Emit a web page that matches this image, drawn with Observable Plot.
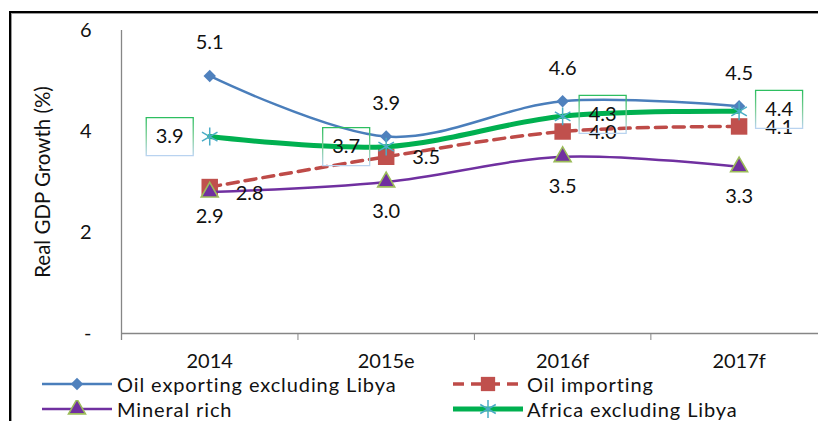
<!DOCTYPE html>
<html>
<head>
<meta charset="utf-8">
<script src="https://cdn.jsdelivr.net/npm/d3@7"></script>
<script src="https://cdn.jsdelivr.net/npm/@observablehq/plot@0.6"></script>
<style>
  html, body { margin: 0; padding: 0; background: #fff; }
  body { width: 818px; height: 421px; position: relative; overflow: hidden; font-family: Lato, "Liberation Sans", sans-serif; }
  #chart { position: absolute; left: 0; top: 0; }
  #frame { position: absolute; left: 9px; top: 11px; width: 900px; height: 500px; border-left: 2px solid #000; border-top: 2px solid #000; box-shadow: inset 1px 1px 0 #9a9a9a; pointer-events: none; }
  .leg { position: absolute; font-size: 20px; letter-spacing: 0.9px; color: #111; line-height: 1; white-space: nowrap; }
  .sw { position: absolute; }
</style>
</head>
<body>
<div id="chart"></div>
<div id="legend"></div>
<div id="frame"></div>
<script>
// ---- data ----
const categories = ["2014", "2015e", "2016f", "2017f"];
const seriesNames = ["Oil exporting excluding Libya", "Oil importing", "Mineral rich", "Africa excluding Libya"];
const oilExporting = [5.1, 3.9, 4.6, 4.5];
const oilImporting = [2.9, 3.5, 4.0, 4.1];
const mineralRich = [2.8, 3.0, 3.5, 3.3];
const africaExLibya = [3.9, 3.7, 4.3, 4.4];
const yTicks = [0, 2, 4, 6];
const yTitle = "Real GDP Growth (%)";
// where each data label sits relative to its point
const placeExporting = ["above", "above", "above", "above"];
const placeImporting = ["below", "right", "right", "right"];
const placeMineral = ["right", "below", "below", "below"];
const placeAfrica = ["boxLeft", "boxLeft", "boxRight", "boxRight"];

const seriesValues = [oilExporting, oilImporting, mineralRich, africaExLibya];
const seriesPlaces = [placeExporting, placeImporting, placeMineral, placeAfrica];

const rows = [];
seriesNames.forEach((name, s) => {
  seriesValues[s].forEach((v, i) => rows.push({series: name, s, i, value: v, place: seriesPlaces[s][i]}));
});

const styles = [
  {stroke: "#4A7EBB", width: 2.5, dash: null, symbol: "diamond2", r: 5.6, fill: "#4F81BD", mstroke: "none", msw: 0},
  {stroke: "#BE4B48", width: 3.5, dash: "11,7", symbol: "square", r: 9.3, fill: "#C0504D", mstroke: "none", msw: 0},
  {stroke: "#7030A0", width: 2.5, dash: null, symbol: "triangle", r: 6.3, fill: "#7030A0", mstroke: "#9BBB59", msw: 1.6},
  {stroke: "#00B050", width: 5, dash: null, symbol: "asterisk", r: 8.5, fill: "none", mstroke: "#4BACC6", msw: 1.5}
];

const boxSymbol = { draw(ctx) { ctx.rect(-23.5, -19, 47, 38); } };
const font = "Lato, 'Liberation Sans', sans-serif";

const marks = [];
// gradient defs for the boxed labels
marks.push(() => {
  const g = d3.create("svg:defs");
  const lg = g.append("linearGradient").attr("id", "boxgrad").attr("x1", 0).attr("y1", 0).attr("x2", 0).attr("y2", 1);
  lg.append("stop").attr("offset", "0%").attr("stop-color", "#2DBE60");
  lg.append("stop").attr("offset", "55%").attr("stop-color", "#7FCF9A");
  lg.append("stop").attr("offset", "100%").attr("stop-color", "#B9D3F0");
  return g.node();
});

marks.push(
  Plot.ruleX([-0.5], {y1: 0, y2: 6, stroke: "#868686", strokeWidth: 1.3, insetTop: 7}),
  Plot.ruleY([0], {stroke: "#868686", strokeWidth: 1.3}),
  Plot.axisX({ticks: [-0.5, 0.5, 1.5, 2.5], tickSize: 7, tickFormat: () => "", stroke: "#868686", label: null}),
  Plot.axisX({ticks: [0, 1, 2, 3], tickSize: 0, tickPadding: 20, tickFormat: i => categories[i], fontSize: 20, label: null}),
  Plot.axisY({ticks: yTicks, tickSize: 0, tickPadding: 30, tickFormat: d => d === 0 ? "-" : String(d), fontSize: 20,
              label: yTitle, labelAnchor: "center", labelOffset: 86, labelArrow: "none"})
);

seriesNames.forEach((name, s) => {
  const st = styles[s];
  const d = rows.filter(r => r.s === s);
  marks.push(Plot.line(d, {x: "i", y: "value", curve: "cardinal", stroke: st.stroke, strokeWidth: st.width, strokeDasharray: st.dash}));
  marks.push(Plot.dot(d, {x: "i", y: "value", symbol: st.symbol, r: st.r, fill: st.fill, stroke: st.mstroke, strokeWidth: st.msw}));
});

const fmt = v => v.toFixed(1);
const offsets = {
  above: {dx: 0, dy: -33},
  below: {dx: 0, dy: 30},
  right: {dx: 40, dy: 1},
  boxLeft: {dx: -40, dy: 0},
  boxRight: {dx: 40, dy: -2}
};
Object.entries(offsets).forEach(([place, o]) => {
  const d = rows.filter(r => r.place === place);
  if (place.startsWith("box")) {
    marks.push(Plot.dot(d, {x: "i", y: "value", symbol: boxSymbol, dx: o.dx, dy: o.dy, fill: "none", stroke: "url(#boxgrad)", strokeWidth: 1.3}));
  }
  marks.push(Plot.text(d, {x: "i", y: "value", text: r => fmt(r.value), dx: o.dx, dy: o.dy, fontSize: 20, fill: "#111", lineAnchor: "middle"}));
});

const chart = Plot.plot({
  width: 818,
  height: 374,
  marginLeft: 121,
  marginRight: 0,
  marginTop: 30,
  marginBottom: 41,
  style: {fontFamily: font, fontSize: "20px", color: "#111", background: "transparent"},
  x: {type: "linear", domain: [-0.5, 3.45]},
  y: {domain: [0, 6]},
  marks
});
d3.select(chart).selectAll("[aria-label='y-axis label'] text").attr("font-size", 20.5);
document.getElementById("chart").appendChild(chart);

// ---- legend (HTML below the SVG) ----
const legend = d3.select("#legend");
const legPos = [
  {sx: 40, tx: 117, y: 384},
  {sx: 451, tx: 527, y: 384},
  {sx: 40, tx: 117, y: 409},
  {sx: 451, tx: 527, y: 409}
];
const d3sym = {diamond2: d3.symbolDiamond2, square: d3.symbolSquare, triangle: d3.symbolTriangle, asterisk: d3.symbolAsterisk};
seriesNames.forEach((name, s) => {
  const st = styles[s], p = legPos[s];
  const svg = legend.append("svg").attr("class", "sw").attr("width", 74).attr("height", 18)
    .style("left", p.sx + "px").style("top", (p.y - 9) + "px");
  svg.append("line").attr("x1", 2).attr("x2", 72).attr("y1", 9).attr("y2", 9)
    .attr("stroke", st.stroke).attr("stroke-width", st.width).attr("stroke-dasharray", st.dash);
  svg.append("path").attr("transform", "translate(37,9)")
    .attr("d", d3.symbol(d3sym[st.symbol], Math.PI * st.r * st.r * (s === 1 ? 0.75 : 1))())
    .attr("fill", st.fill).attr("stroke", st.mstroke).attr("stroke-width", st.msw);
  legend.append("div").attr("class", "leg").style("left", p.tx + "px").style("top", (p.y - 10) + "px").text(name);
});
</script>
</body>
</html>
